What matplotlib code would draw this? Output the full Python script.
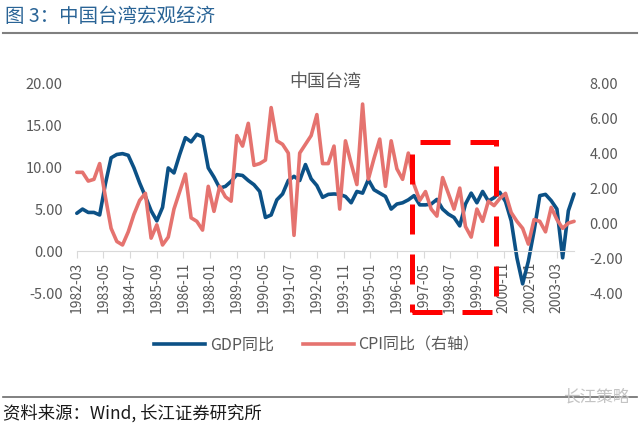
import matplotlib
matplotlib.use("Agg")
import matplotlib.pyplot as plt
import pandas as pd
from matplotlib.lines import Line2D
from matplotlib.patches import Rectangle

plt.rcParams['font.family'] = ['Noto Sans CJK SC', 'DejaVu Sans']

# quarterly observations, 1982Q1 .. 2003Q4
quarters = pd.period_range("1982Q1", "2003Q4", freq="Q")

gdp_yoy = [4.5, 5.0, 4.6, 4.6, 4.3, 8.0, 11.1, 11.5, 11.6, 11.4,
           9.9, 8.1, 6.5, 4.8, 3.6, 5.2, 9.9, 9.3, 11.5, 13.5,
           13.0, 13.9, 13.6, 9.9, 8.8, 7.5, 7.7, 8.3, 9.1, 9.0,
           8.4, 7.9, 7.1, 4.0, 4.3, 6.1, 6.8, 8.4, 8.9, 8.4,
           10.3, 8.6, 7.8, 6.4, 6.75, 6.8, 6.75, 6.5, 5.75, 7.1,
           6.9, 8.5, 7.3, 6.9, 6.5, 5.0, 5.6, 5.75, 6.1, 6.6,
           5.5, 5.5, 5.6, 6.15, 5.0, 4.4, 4.0, 3.0, 5.6, 6.9,
           5.75, 7.1, 5.95, 6.35, 7.0, 5.9, 3.6, -0.8, -3.9, -1.2,
           2.4, 6.6, 6.75, 6.0, 5.0, -0.8, 4.8, 6.8]

cpi_yoy = [2.9, 2.9, 2.4, 2.5, 3.4, 1.5, -0.3, -1.05, -1.25, -0.5,
           0.5, 1.3, 1.7, -0.86, -0.1, -1.25, -0.8, 0.8, 1.8, 2.8,
           0.3, 0.1, -0.4, 2.1, 0.67, 2.1, 1.5, 1.25, 5.0, 4.4,
           5.7, 3.3, 3.4, 3.6, 6.6, 4.7, 4.5, 4.0, -0.7, 4.0,
           4.5, 5.0, 6.2, 3.4, 3.4, 4.4, 0.8, 4.7, 3.4, 2.2,
           6.8, 2.5, 3.7, 4.8, 2.1, 4.7, 3.1, 2.5, 4.0, 2.2,
           1.3, 1.8, 0.8, 0.4, 2.6, 1.7, 0.8, 2.0, -0.2, -0.8,
           0.8, 0.1, 1.25, 1.0, 1.4, 1.7, 0.6, 0.1, -0.3, -1.2,
           0.2, 0.1, -0.5, 0.9, 0.2, -0.3, 0.0, 0.1]

tick_labels = ["1982-03", "1983-05", "1984-07", "1985-09", "1986-11",
               "1988-01", "1989-03", "1990-05", "1991-07", "1992-09",
               "1993-11", "1995-01", "1996-03", "1997-05", "1998-07",
               "1999-09", "2000-11", "2002-01", "2003-03"]

left_ticks = [-5, 0, 5, 10, 15, 20]
right_ticks = [-4, -2, 0, 2, 4, 6, 8]


def month_index(year, month):
    return (year - 1982) * 12 + (month - 3)


x = [month_index(p.year, p.end_time.month) for p in quarters]
tick_x = [month_index(int(s[:4]), int(s[5:])) for s in tick_labels]

GDP_C = "#0c5186"
CPI_C = "#e5736f"
GREY = "#595959"

fig = plt.figure(figsize=(6.4, 4.26), dpi=100)
ax = fig.add_axes([0.12, 0.312, 0.777, 0.493])
ax2 = ax.twinx()

ax.plot(x, gdp_yoy, color=GDP_C, lw=2.6, solid_joinstyle="round",
        solid_capstyle="round", clip_on=False)
ax2.plot(x, cpi_yoy, color=CPI_C, lw=2.6, solid_joinstyle="round",
         solid_capstyle="round", clip_on=False)

ax.set_xlim(0, x[-1])
ax.set_ylim(-5, 20)
ax2.set_ylim(-4, 8)

for a in (ax, ax2):
    for s in a.spines.values():
        s.set_visible(False)
ax.spines["bottom"].set_visible(True)
ax.spines["bottom"].set_position(("data", 0))
ax.spines["bottom"].set_color("#d9d9d9")

ax.set_xticks(tick_x)
ax.set_xticklabels(tick_labels, rotation=90)
ax.tick_params(axis="x", direction="out", length=5, color="#d9d9d9",
               labelcolor=GREY, labelsize=10, pad=3)
ax.set_yticks(left_ticks)
ax.set_yticklabels([f"{v:.2f}" for v in left_ticks])
ax.tick_params(axis="y", length=0, labelcolor=GREY, labelsize=10.5, pad=10)
ax2.set_yticks(right_ticks)
ax2.set_yticklabels([f"{v:.2f}" for v in right_ticks])
ax2.tick_params(axis="y", length=0, labelcolor=GREY, labelsize=10.5, pad=11)

# red dashed highlight box (1996-11 .. 2000-07), in left-axis units,
# drawn through ax2's transform so it sits above both lines
x0, x1 = month_index(1996, 11), month_index(2000, 7)
box = Rectangle((x0, -7.3), x1 - x0, 20.3, fill=False, ec="#ff0000",
                lw=3.6, ls=(0, (6, 4)), clip_on=False, zorder=5,
                transform=ax.transData)
ax2.add_artist(box)

fig.text(0.508, 1 - 82 / 426, "中国台湾", ha="center", va="center",
         fontsize=13, color=GREY)

handles = [Line2D([], [], color=GDP_C, lw=2.6), Line2D([], [], color=CPI_C, lw=2.6)]
fig.legend(handles, ["GDP同比", "CPI同比（右轴）"], loc="center",
           bbox_to_anchor=(0.495, 1 - 345 / 426), ncol=2, frameon=False,
           fontsize=11.5, handlelength=3.2, handletextpad=0.3,
           columnspacing=1.8, labelcolor=GREY)

# header and footer
fig.text(5 / 640, 1 - 16 / 426, "图 3：中国台湾宏观经济", color="#2a6496",
         fontsize=14, fontweight="medium", va="center")
fig.add_artist(Line2D([3 / 640, 637 / 640], [1 - 33 / 426] * 2, color="#808080", lw=1.5))
fig.add_artist(Line2D([3 / 640, 637 / 640], [1 - 397 / 426] * 2, color="#6b6b6b", lw=1.2))
fig.text(3 / 640, 1 - 413 / 426, "资料来源：Wind, 长江证券研究所", color="#1a1a1a",
         fontsize=12.5, va="center")
fig.text(596 / 640, 1 - 397 / 426, "长江策略", color="#c4c4c4", fontsize=12,
         ha="center", va="center")

fig.savefig("out.png", dpi=100)
